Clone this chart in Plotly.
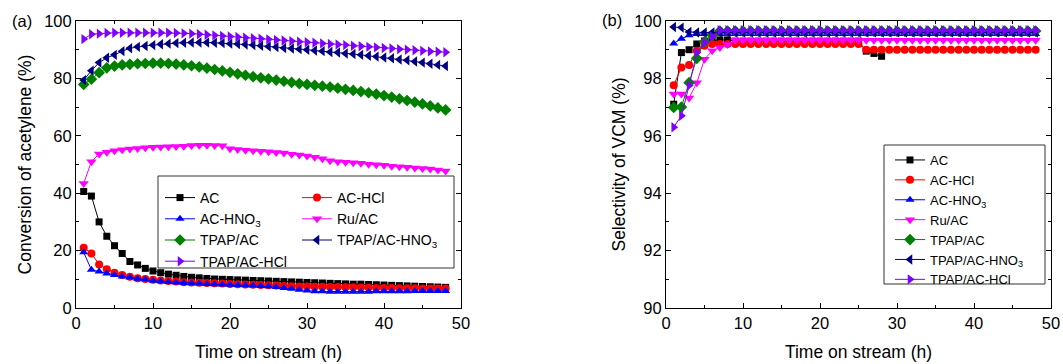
import plotly.graph_objects as go

time_h = list(range(1, 49))
time_ac_sel = list(range(1, 29))

series_names = ["AC", "AC-HCl", "AC-HNO<sub>3</sub>", "Ru/AC", "TPAP/AC",
                "TPAP/AC-HNO<sub>3</sub>", "TPAP/AC-HCl"]
colors = ["#000000", "#FF0000", "#0000FF", "#FF00FF", "#008000", "#000080", "#8000FF"]
symbols = ["square", "circle", "triangle-up", "triangle-down", "diamond",
           "triangle-left", "triangle-right"]

# ---- (a) Conversion of acetylene (%) ----
conv_ac = [40.6, 39.0, 30.0, 25.0, 21.7, 19.0, 16.2, 15.0, 13.8, 12.9,
           12.3, 11.8, 11.4, 11.0, 10.7, 10.5, 10.3, 10.1, 10.0, 9.9,
           9.8, 9.7, 9.6, 9.5, 9.4, 9.3, 9.2, 9.1, 9.0, 8.9,
           8.8, 8.7, 8.6, 8.5, 8.4, 8.3, 8.3, 8.2, 8.1, 8.0,
           7.9, 7.8, 7.7, 7.6, 7.5, 7.4, 7.3, 7.2]
conv_ac_hcl = [21.0, 19.0, 15.2, 13.5, 12.3, 11.5, 10.9, 10.4, 10.1, 9.8,
               9.6, 9.4, 9.2, 9.0, 8.9, 8.8, 8.7, 8.6, 8.5, 8.4,
               8.3, 8.2, 8.1, 8.0, 7.9, 7.8, 7.7, 7.6, 7.5, 7.5,
               7.4, 7.4, 7.3, 7.3, 7.2, 7.2, 7.1, 7.1, 7.0, 7.0,
               7.0, 6.9, 6.9, 6.9, 6.8, 6.8, 6.8, 6.8]
conv_ac_hno3 = [19.4, 13.3, 12.7, 12.0, 11.5, 11.0, 10.6, 10.2, 9.9, 9.5,
                9.3, 9.1, 8.9, 8.7, 8.6, 8.5, 8.4, 8.3, 8.2, 8.1,
                8.0, 7.9, 7.8, 7.7, 7.6, 7.3, 7.0, 6.7, 6.4, 6.1,
                5.8, 5.8, 5.7, 5.7, 5.7, 5.7, 5.7, 5.7, 5.8, 5.8,
                5.8, 5.8, 5.8, 5.9, 5.9, 5.9, 5.9, 5.9]
conv_ru_ac = [43.4, 51.0, 53.7, 54.3, 54.8, 55.1, 55.4, 55.6, 55.8, 56.0,
              56.1, 56.2, 56.3, 56.4, 56.6, 56.7, 56.7, 56.6, 56.5, 55.5,
              55.2, 55.0, 54.8, 54.6, 54.4, 54.2, 54.0, 53.6, 53.3, 53.0,
              52.5, 52.0, 51.3, 51.0, 50.8, 50.6, 50.4, 50.1, 49.9, 49.7,
              49.4, 49.2, 49.0, 48.8, 48.6, 48.4, 48.1, 47.7]
conv_tpap_ac = [77.9, 79.7, 82.0, 83.7, 84.3, 84.7, 84.9, 85.1, 85.2, 85.3,
                85.3, 85.2, 85.0, 84.7, 84.4, 84.0, 83.6, 83.1, 82.6, 82.1,
                81.6, 81.1, 80.6, 80.2, 79.8, 79.4, 79.0, 78.6, 78.2, 77.9,
                77.6, 77.3, 77.0, 76.6, 76.2, 75.8, 75.4, 75.0, 74.5, 74.0,
                73.5, 72.9, 72.3, 71.7, 71.1, 70.4, 69.7, 69.0]
conv_tpap_ac_hno3 = [79.4, 82.7, 85.5, 87.2, 88.2, 89.5, 90.5, 91.0, 91.3, 91.6,
                     91.9, 92.1, 92.3, 92.4, 92.5, 92.5, 92.5, 92.4, 92.3, 92.1,
                     92.0, 91.8, 91.6, 91.4, 91.1, 90.9, 90.6, 90.4, 90.2, 90.0,
                     89.7, 89.5, 89.2, 89.0, 88.7, 88.5, 88.2, 87.9, 87.6, 87.3,
                     87.0, 86.6, 86.3, 85.9, 85.5, 85.1, 84.7, 84.3]
conv_tpap_ac_hcl = [93.7, 95.4, 95.6, 95.8, 95.9, 95.9, 95.9, 95.9, 95.9, 95.9,
                    95.9, 95.9, 95.8, 95.7, 95.6, 95.4, 95.2, 95.0, 94.8, 94.6,
                    94.4, 94.2, 94.0, 93.8, 93.6, 93.4, 93.2, 93.0, 92.8, 92.6,
                    92.4, 92.2, 92.0, 91.8, 91.6, 91.4, 91.2, 91.0, 90.8, 90.6,
                    90.4, 90.2, 90.0, 89.8, 89.6, 89.4, 89.3, 89.1]

# ---- (b) Selectivity of VCM (%) ----
sel_ac = [97.1, 98.9, 99.0, 99.2, 99.3, 99.33, 99.34, 99.34, 99.3, 99.3,
          99.3, 99.3, 99.3, 99.3, 99.3, 99.3, 99.3, 99.3, 99.3, 99.3,
          99.3, 99.3, 99.3, 99.3, 99.3, 98.95, 98.87, 98.77]
sel_ac_hcl = [97.76, 98.38, 98.47, 98.96, 99.14] + [99.2] * 20 + [99.0] * 23
sel_ac_hno3 = [99.22, 99.38, 99.5] + [99.55] * 45
sel_ru_ac = [97.46, 97.46, 97.32, 97.85, 98.67, 98.96, 99.08, 99.18] + [99.33] * 40
sel_tpap_ac = [96.99, 97.0, 97.85, 98.7, 99.28, 99.5] + [99.65] * 42
sel_tpap_ac_hno3 = [99.79, 99.77, 99.62] + [99.6] * 45
sel_tpap_ac_hcl = [96.3, 96.7, 97.75, 98.9, 99.25, 99.45] + [99.68] * 42

conv_data = [conv_ac, conv_ac_hcl, conv_ac_hno3, conv_ru_ac, conv_tpap_ac,
             conv_tpap_ac_hno3, conv_tpap_ac_hcl]
sel_data = [sel_ac, sel_ac_hcl, sel_ac_hno3, sel_ru_ac, sel_tpap_ac,
            sel_tpap_ac_hno3, sel_tpap_ac_hcl]
sel_times = [time_ac_sel] + [time_h] * 6

W, H = 1063, 364
FONT = "Arial, 'Liberation Sans', sans-serif"

def px_x(p):
    return p / W

def px_y(p):
    return (H - p) / H

fig = go.Figure()

left_legends = ["legend", "legend2", "legend", "legend2", "legend", "legend2", "legend"]
msizes = [7, 8, 8, 9, 9, 9, 9]

for i in range(7):
    fig.add_trace(go.Scatter(
        x=time_h, y=conv_data[i], name=series_names[i], mode="lines+markers",
        line=dict(color=colors[i], width=1),
        marker=dict(symbol=symbols[i], color=colors[i], size=msizes[i], line=dict(width=0)),
        xaxis="x", yaxis="y", legend=left_legends[i]))

for i in range(7):
    fig.add_trace(go.Scatter(
        x=sel_times[i], y=sel_data[i], name=series_names[i], mode="lines+markers",
        line=dict(color=colors[i], width=1),
        marker=dict(symbol=symbols[i], color=colors[i], size=msizes[i], line=dict(width=0)),
        xaxis="x2", yaxis="y2", legend="legend3"))

axis_common = dict(showline=True, linecolor="#000000", linewidth=1, mirror="ticks",
                   ticks="inside", ticklen=5, tickwidth=1, tickcolor="#000000",
                   showgrid=False, zeroline=False, automargin=False,
                   tickfont=dict(family=FONT, size=16.5, color="#000000"))
minor_common = dict(ticks="inside", ticklen=3, tickwidth=1, tickcolor="#000000", showgrid=False)
title_font = dict(family=FONT, size=17.5, color="#000000")

fig.update_layout(
    width=W, height=H,
    margin=dict(l=0, r=0, t=0, b=0, autoexpand=False),
    paper_bgcolor="white", plot_bgcolor="white",
    font=dict(family=FONT, color="#000000"),
    xaxis=dict(domain=[px_x(76), px_x(461)], range=[0, 50], dtick=10, tick0=0,
               minor=dict(dtick=5, **minor_common), anchor="y",
               title=dict(text="Time on stream (h)", font=title_font, standoff=14),
               **axis_common),
    yaxis=dict(domain=[px_y(308), px_y(21)], range=[0, 100], dtick=20, tick0=0,
               minor=dict(dtick=10, **minor_common), anchor="x",
               title=dict(text="Conversion of acetylene (%)", font=title_font, standoff=8),
               **axis_common),
    xaxis2=dict(domain=[px_x(666), px_x(1051)], range=[0, 50], dtick=10, tick0=0,
                minor=dict(dtick=5, **minor_common), anchor="y2",
                title=dict(text="Time on stream (h)", font=title_font, standoff=14),
                **axis_common),
    yaxis2=dict(domain=[px_y(308), px_y(21)], range=[90, 100], dtick=2, tick0=90,
                minor=dict(dtick=1, **minor_common), anchor="x2",
                title=dict(text="Selectivity of VCM (%)", font=title_font, standoff=4),
                **axis_common),
    legend=dict(x=px_x(160), y=px_y(182), xanchor="left", yanchor="top",
                bgcolor="rgba(0,0,0,0)", borderwidth=0,
                font=dict(family=FONT, size=14, color="#000000"), tracegroupgap=0),
    legend2=dict(x=px_x(297), y=px_y(182), xanchor="left", yanchor="top",
                 bgcolor="rgba(0,0,0,0)", borderwidth=0,
                 font=dict(family=FONT, size=14, color="#000000"), tracegroupgap=0),
    legend3=dict(x=px_x(890), y=px_y(145), xanchor="left", yanchor="top",
                 bgcolor="rgba(0,0,0,0)", borderwidth=0,
                 font=dict(family=FONT, size=13, color="#000000"), tracegroupgap=0),
    shapes=[
        dict(type="rect", xref="paper", yref="paper", x0=px_x(158), x1=px_x(454),
             y0=px_y(268), y1=px_y(176), line=dict(color="#333333", width=1)),
        dict(type="rect", xref="paper", yref="paper", x0=px_x(884), x1=px_x(1045),
             y0=px_y(284), y1=px_y(145), line=dict(color="#333333", width=1)),
    ],
    annotations=[
        dict(text="(a)", xref="paper", yref="paper", x=px_x(22), y=px_y(21),
             xanchor="center", yanchor="middle",
             showarrow=False, font=dict(family=FONT, size=16.5, color="#000000")),
        dict(text="(b)", xref="paper", yref="paper", x=px_x(612), y=px_y(20),
             xanchor="center", yanchor="middle",
             showarrow=False, font=dict(family=FONT, size=16.5, color="#000000")),
    ],
)

fig.write_html("out.html", config={"displayModeBar": False},
               post_script="document.body.style.margin='0';document.body.style.padding='0';")
